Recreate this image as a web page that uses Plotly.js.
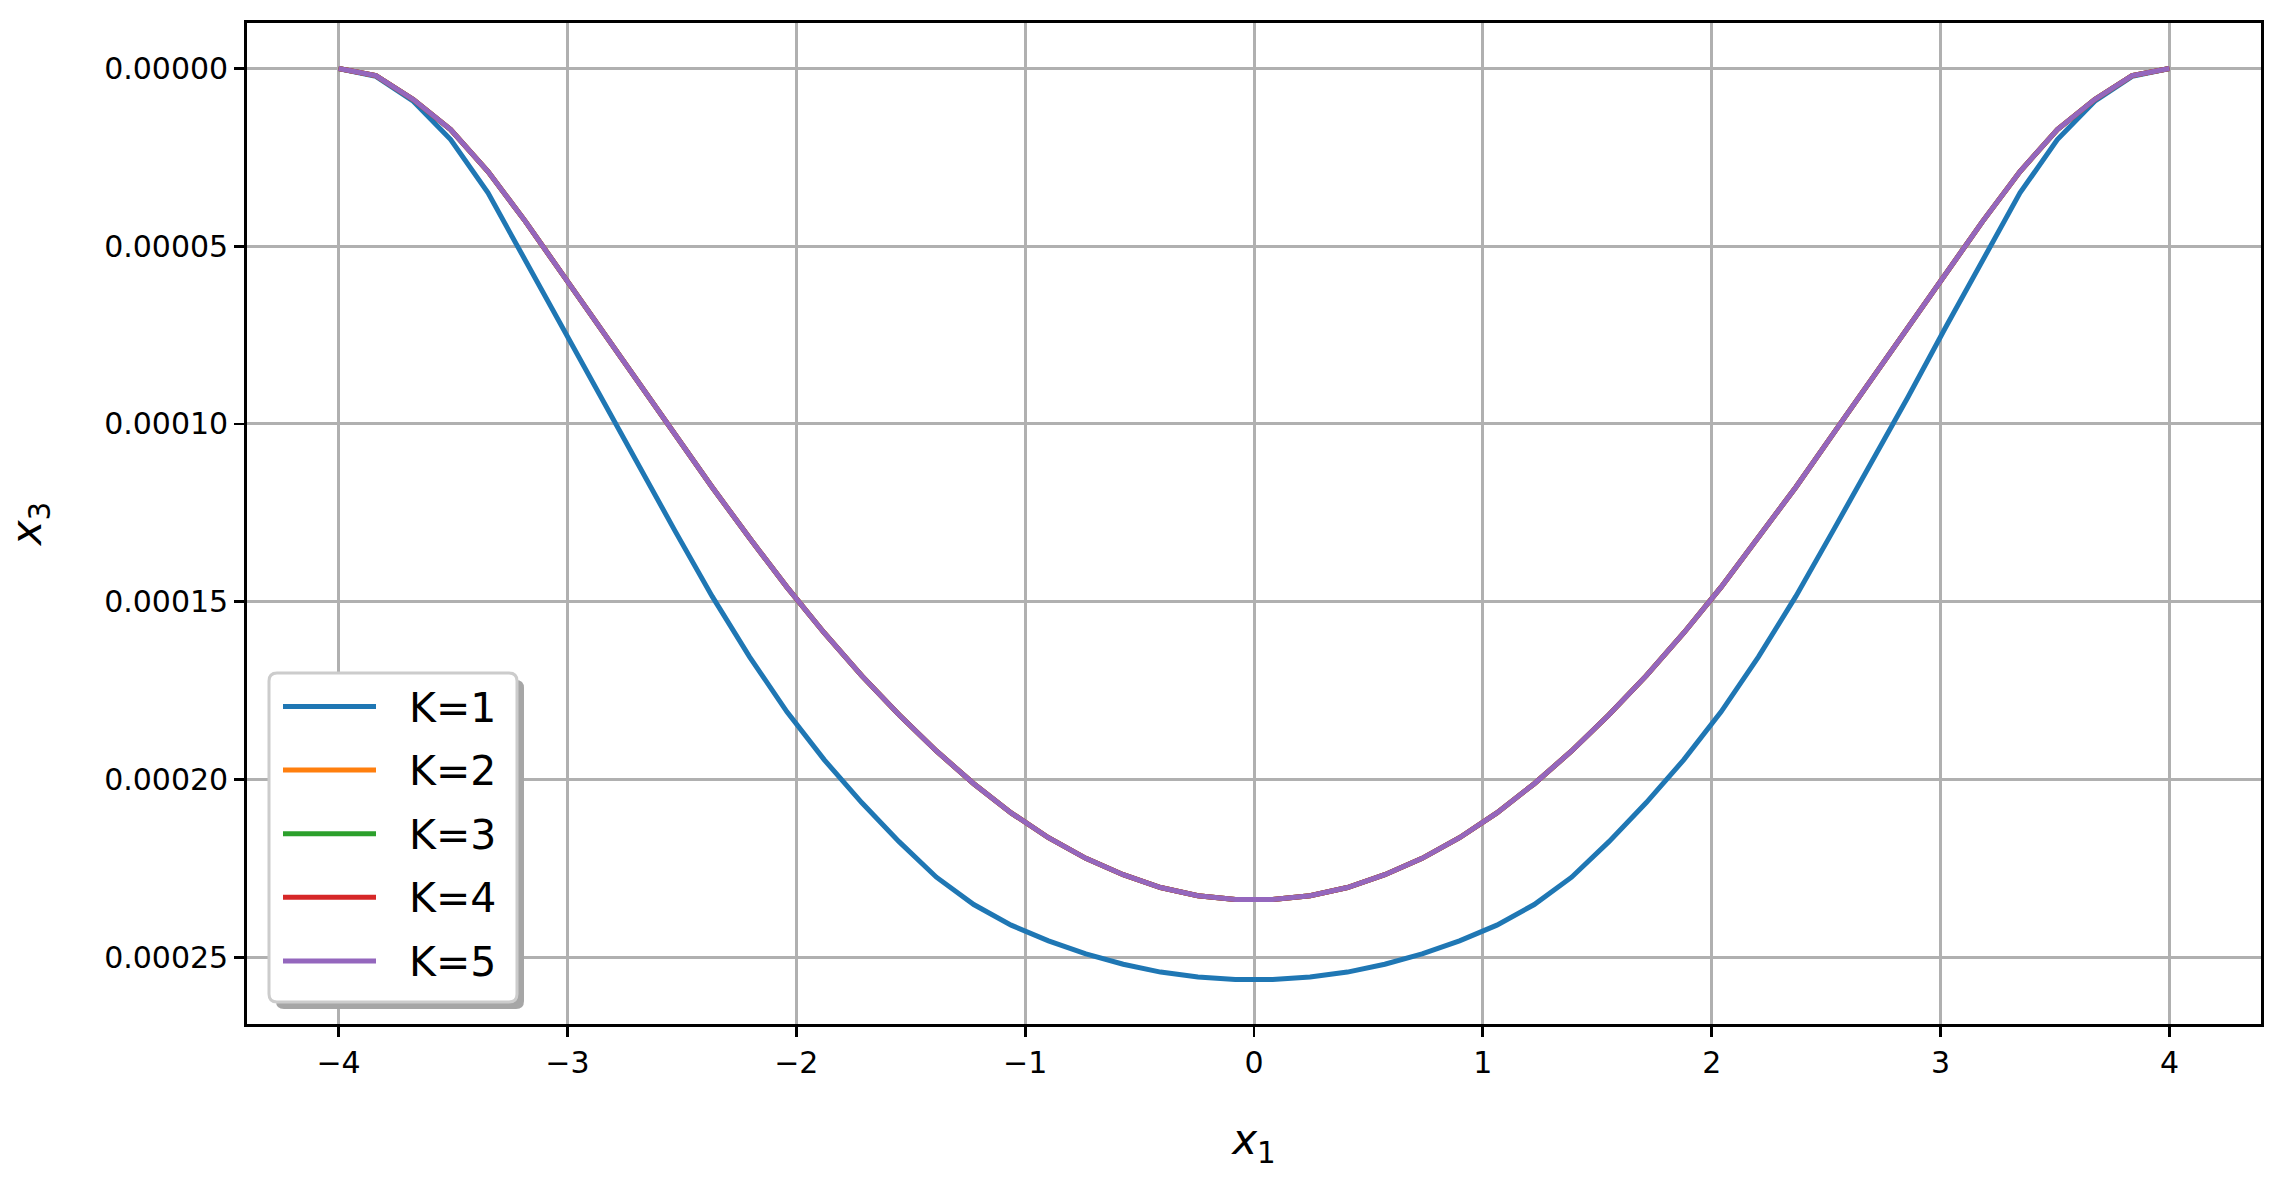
<!DOCTYPE html>
<html>
<head>
<meta charset="utf-8">
<script src="https://cdn.plot.ly/plotly-3.0.1.min.js"></script>
<style>html,body{margin:0;padding:0;background:#fff;}#chart{width:2282px;height:1185px;}</style>
</head>
<body>
<div id="chart"></div>
<script>
// ---- data ----
const seriesNames = ["K=1", "K=2", "K=3", "K=4", "K=5"];
const seriesColors = ["#1f77b4", "#ff7f0e", "#2ca02c", "#d62728", "#9467bd"];

const x1 = [-4, -3.83673, -3.67347, -3.5102, -3.34694, -3.18367, -3.02041, -2.85714, -2.69388, -2.53061,
  -2.36735, -2.20408, -2.04082, -1.87755, -1.71429, -1.55102, -1.38776, -1.22449, -1.06122, -0.89796,
  -0.73469, -0.57143, -0.40816, -0.2449, -0.08163, 0.08163, 0.2449, 0.40816, 0.57143, 0.73469,
  0.89796, 1.06122, 1.22449, 1.38776, 1.55102, 1.71429, 1.87755, 2.04082, 2.20408, 2.36735,
  2.53061, 2.69388, 2.85714, 3.02041, 3.18367, 3.34694, 3.5102, 3.67347, 3.83673, 4];

const x3_K1 = [0, 2.2e-6, 9.2e-6, 20e-6, 35e-6, 54e-6, 73e-6, 92.5e-6, 111.5e-6, 130e-6,
  148.5e-6, 165.5e-6, 181e-6, 194.5e-6, 206.5e-6, 217.5e-6, 227.5e-6, 235.2e-6, 241e-6, 245.4e-6,
  249.1e-6, 252e-6, 254.2e-6, 255.6e-6, 256.3e-6, 256.3e-6, 255.6e-6, 254.2e-6, 252e-6, 249.1e-6,
  245.4e-6, 241e-6, 235.2e-6, 227.5e-6, 217.5e-6, 206.5e-6, 194.5e-6, 181e-6, 165.5e-6, 148.5e-6,
  130e-6, 111.5e-6, 92.5e-6, 73e-6, 54e-6, 35e-6, 20e-6, 9.2e-6, 2.2e-6, 0];

const x3_K2 = [0, 2.0e-6, 8.7e-6, 17.2e-6, 29e-6, 43e-6, 58e-6, 73e-6, 88e-6, 102.8e-6,
  117.8e-6, 132.1e-6, 145.9e-6, 158.8e-6, 170.8e-6, 181.8e-6, 192e-6, 201.2e-6, 209.4e-6, 216.4e-6,
  222.2e-6, 226.8e-6, 230.4e-6, 232.7e-6, 233.8e-6, 233.8e-6, 232.7e-6, 230.4e-6, 226.8e-6, 222.2e-6,
  216.4e-6, 209.4e-6, 201.2e-6, 192e-6, 181.8e-6, 170.8e-6, 158.8e-6, 145.9e-6, 132.1e-6, 117.8e-6,
  102.8e-6, 88e-6, 73e-6, 58e-6, 43e-6, 29e-6, 17.2e-6, 8.7e-6, 2.0e-6, 0];

const x3_K3 = [0, 2.0e-6, 8.7e-6, 17.2e-6, 29e-6, 43e-6, 58e-6, 73e-6, 88e-6, 102.8e-6,
  117.8e-6, 132.1e-6, 145.9e-6, 158.8e-6, 170.8e-6, 181.8e-6, 192e-6, 201.2e-6, 209.4e-6, 216.4e-6,
  222.2e-6, 226.8e-6, 230.4e-6, 232.7e-6, 233.8e-6, 233.8e-6, 232.7e-6, 230.4e-6, 226.8e-6, 222.2e-6,
  216.4e-6, 209.4e-6, 201.2e-6, 192e-6, 181.8e-6, 170.8e-6, 158.8e-6, 145.9e-6, 132.1e-6, 117.8e-6,
  102.8e-6, 88e-6, 73e-6, 58e-6, 43e-6, 29e-6, 17.2e-6, 8.7e-6, 2.0e-6, 0];

const x3_K4 = [0, 2.0e-6, 8.7e-6, 17.2e-6, 29e-6, 43e-6, 58e-6, 73e-6, 88e-6, 102.8e-6,
  117.8e-6, 132.1e-6, 145.9e-6, 158.8e-6, 170.8e-6, 181.8e-6, 192e-6, 201.2e-6, 209.4e-6, 216.4e-6,
  222.2e-6, 226.8e-6, 230.4e-6, 232.7e-6, 233.8e-6, 233.8e-6, 232.7e-6, 230.4e-6, 226.8e-6, 222.2e-6,
  216.4e-6, 209.4e-6, 201.2e-6, 192e-6, 181.8e-6, 170.8e-6, 158.8e-6, 145.9e-6, 132.1e-6, 117.8e-6,
  102.8e-6, 88e-6, 73e-6, 58e-6, 43e-6, 29e-6, 17.2e-6, 8.7e-6, 2.0e-6, 0];

const x3_K5 = [0, 2.0e-6, 8.7e-6, 17.2e-6, 29e-6, 43e-6, 58e-6, 73e-6, 88e-6, 102.8e-6,
  117.8e-6, 132.1e-6, 145.9e-6, 158.8e-6, 170.8e-6, 181.8e-6, 192e-6, 201.2e-6, 209.4e-6, 216.4e-6,
  222.2e-6, 226.8e-6, 230.4e-6, 232.7e-6, 233.8e-6, 233.8e-6, 232.7e-6, 230.4e-6, 226.8e-6, 222.2e-6,
  216.4e-6, 209.4e-6, 201.2e-6, 192e-6, 181.8e-6, 170.8e-6, 158.8e-6, 145.9e-6, 132.1e-6, 117.8e-6,
  102.8e-6, 88e-6, 73e-6, 58e-6, 43e-6, 29e-6, 17.2e-6, 8.7e-6, 2.0e-6, 0];

const xTickVals = [-4, -3, -2, -1, 0, 1, 2, 3, 4];
const xTickText = ["\u22124", "\u22123", "\u22122", "\u22121", "0", "1", "2", "3", "4"];
const yTickVals = [0, 0.00005, 0.0001, 0.00015, 0.0002, 0.00025];
const yTickText = ["0.00000", "0.00005", "0.00010", "0.00015", "0.00020", "0.00025"];

// ---- chart ----
const seriesY = [x3_K1, x3_K2, x3_K3, x3_K4, x3_K5];
const FONT = "DejaVu Sans";
const W = 2282, H = 1185;
const M = {l: 247, r: 21, t: 23, b: 161};
const PW = W - M.l - M.r, PH = H - M.t - M.b;
const px = v => (v - M.l) / PW;
const py = v => (H - M.b - v) / PH;

const traces = seriesY.map((ys, i) => ({
  type: "scatter", mode: "lines", x: x1, y: ys, name: seriesNames[i],
  line: {color: seriesColors[i], width: 5}, showlegend: false, hoverinfo: "skip"
}));

function roundRect(x0, y0, x1, y1, r) {
  const X = v => px(v).toFixed(6), Y = v => py(v).toFixed(6);
  return `M${X(x0 + r)},${Y(y0)} L${X(x1 - r)},${Y(y0)} Q${X(x1)},${Y(y0)} ${X(x1)},${Y(y0 + r)} ` +
    `L${X(x1)},${Y(y1 - r)} Q${X(x1)},${Y(y1)} ${X(x1 - r)},${Y(y1)} L${X(x0 + r)},${Y(y1)} ` +
    `Q${X(x0)},${Y(y1)} ${X(x0)},${Y(y1 - r)} L${X(x0)},${Y(y0 + r)} Q${X(x0)},${Y(y0)} ${X(x0 + r)},${Y(y0)} Z`;
}

// legend (drawn to mimic matplotlib's fancy box legend)
const legBox = {x0: 269, y0: 673, x1: 517, y1: 1002};
const rowY0 = 706.5, rowStep = 63.6;
const shapes = [
  {type: "path", xref: "paper", yref: "paper", layer: "above",
   path: roundRect(legBox.x0 + 7, legBox.y0 + 7, legBox.x1 + 7, legBox.y1 + 7, 8),
   fillcolor: "#a6a6a6", line: {width: 0}},
  {type: "path", xref: "paper", yref: "paper", layer: "above",
   path: roundRect(legBox.x0, legBox.y0, legBox.x1, legBox.y1, 8),
   fillcolor: "#ffffff", line: {color: "#cccccc", width: 3}}
];
const annotations = [];
seriesNames.forEach((nm, i) => {
  const yy = rowY0 + i * rowStep;
  shapes.push({type: "line", xref: "paper", yref: "paper", layer: "above",
    x0: px(283), x1: px(376), y0: py(yy), y1: py(yy),
    line: {color: seriesColors[i], width: 5}});
  annotations.push({xref: "paper", yref: "paper", x: px(407), y: py(yy + 1),
    xanchor: "left", yanchor: "middle", showarrow: false, text: nm,
    font: {family: FONT, size: 41, color: "#000"}});
});

const axisCommon = {
  showgrid: true, gridcolor: "#b0b0b0", gridwidth: 3, zeroline: false,
  showline: true, linecolor: "#000", linewidth: 2.8, mirror: true,
  ticks: "outside", ticklen: 10, tickwidth: 2.8, tickcolor: "#000",
  tickfont: {family: FONT, size: 30, color: "#000"}, automargin: false
};

const layout = {
  width: W, height: H, margin: {l: M.l, r: M.r, t: M.t, b: M.b, pad: 0},
  paper_bgcolor: "#fff", plot_bgcolor: "#fff", showlegend: false,
  font: {family: FONT, color: "#000"},
  xaxis: Object.assign({}, axisCommon, {
    range: [-4.4, 4.4], tickmode: "array", tickvals: xTickVals, ticktext: xTickText,
    title: {text: "<i>x</i><sub>1</sub>", font: {family: FONT, size: 42, color: "#000"}, standoff: 46}
  }),
  yaxis: Object.assign({}, axisCommon, {
    range: [0.0002688, -0.0000128], tickmode: "array", tickvals: yTickVals, ticktext: yTickText,
    title: {text: "<i>x</i><sub>3</sub>", font: {family: FONT, size: 42, color: "#000"}, standoff: 50}
  }),
  shapes: shapes, annotations: annotations
};

Plotly.newPlot("chart", traces, layout, {staticPlot: true, displayModeBar: false});
</script>
</body>
</html>
